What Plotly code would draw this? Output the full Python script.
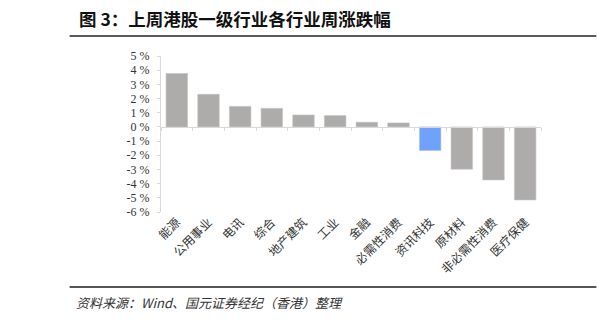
import plotly.graph_objects as go

categories = ["能源", "公用事业", "电讯", "综合", "地产建筑", "工业", "金融",
              "必需性消费", "资讯科技", "原材料", "非必需性消费", "医疗保健"]
values = [3.76, 2.3, 1.45, 1.31, 0.84, 0.8, 0.33, 0.28, -1.67, -2.98, -3.74, -5.15]
highlight = "资讯科技"
y_ticks = [5, 4, 3, 2, 1, 0, -1, -2, -3, -4, -5, -6]

title_text = "图 3：上周港股一级行业各行业周涨跌幅"
source_text = "资料来源：Wind、国元证券经纪（香港）整理"

W, H = 597, 324
L, R, T, B = 160.6, 55.5, 56, 112
PW, PH = W - L - R, H - T - B


def px(x):
    return (x - L) / PW


def py(y):
    return (H - B - y) / PH


gray = "#adacab"
blue = "#6ea2fd"
colors = [blue if c == highlight else gray for c in categories]

fig = go.Figure()
fig.add_trace(go.Bar(x=categories, y=values, marker=dict(color=colors, line=dict(width=0.6, color="#c4c4c4")),
                     hoverinfo="skip"))
fig.add_trace(go.Scatter(x=categories, y=values, xaxis="x2", mode="markers",
                         marker=dict(opacity=0), hoverinfo="skip", showlegend=False))

ymin, ymax = min(y_ticks), max(y_ticks)
zero_pos = (0 - ymin) / (ymax - ymin)

fig.update_layout(
    width=W, height=H,
    margin=dict(l=L, r=R, t=T, b=B),
    paper_bgcolor="white", plot_bgcolor="white",
    showlegend=False,
    bargap=0.32,
    xaxis=dict(type="category", categoryorder="array", categoryarray=categories,
               range=[-0.5, len(categories) - 0.5],
               anchor="free", position=zero_pos,
               showline=True, linecolor="#d9d9d9", linewidth=1,
               ticks="outside", tickson="boundaries", ticklen=3, tickcolor="#d9d9d9",
               showticklabels=False, showgrid=False, zeroline=False),
    xaxis2=dict(type="category", categoryorder="array", categoryarray=categories,
                range=[-0.5, len(categories) - 0.5],
                overlaying="x", anchor="y", side="bottom",
                showline=False, ticks="", showgrid=False, zeroline=False,
                tickangle=-45,
                tickfont=dict(family="Noto Sans CJK SC", size=12, color="#333333")),
    yaxis=dict(range=[ymin, ymax], tickvals=y_ticks, ticktext=[f"{v} %" for v in y_ticks],
               showline=True, linecolor="#d9d9d9", linewidth=1,
               ticks="outside", ticklen=3, tickcolor="#d9d9d9",
               ticklabelstandoff=5,
               showgrid=False, zeroline=False,
               tickfont=dict(family="Liberation Serif", size=12, color="#333333")),
)

# title and rules
fig.add_annotation(text=title_text, xref="paper", yref="paper",
                   x=px(76), y=py(19), xanchor="left", yanchor="middle", showarrow=False,
                   font=dict(family="Noto Sans CJK SC", size=17.5, color="#111111", weight="bold"))
fig.add_shape(type="line", xref="paper", yref="paper", x0=px(69), x1=px(597), y0=py(36), y1=py(36),
              line=dict(color="#222222", width=1.5))
fig.add_shape(type="line", xref="paper", yref="paper", x0=px(69), x1=px(597), y0=py(287), y1=py(287),
              line=dict(color="#555555", width=2))
fig.add_annotation(text=source_text, xref="paper", yref="paper",
                   x=px(73), y=py(302), xanchor="left", yanchor="middle", showarrow=False,
                   font=dict(family="Noto Sans CJK SC", size=13, color="#333333", style="italic"))

fig.write_html("out.html")
